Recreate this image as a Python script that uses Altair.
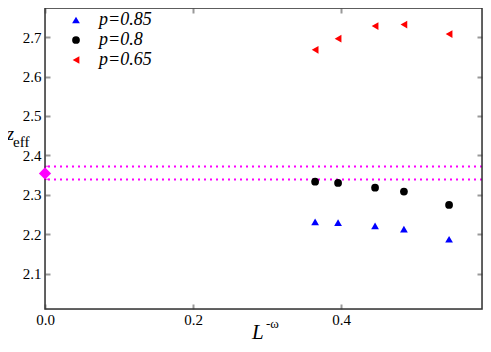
import altair as alt
import pandas as pd

# ---- data ----
L_omega = [0.365, 0.396, 0.446, 0.485, 0.546]
z_p085 = [2.231, 2.229, 2.221, 2.213, 2.187]
z_p080 = [2.333, 2.330, 2.318, 2.308, 2.274]
z_p065 = [2.668, 2.696, 2.728, 2.732, 2.708]
series = ["p=0.85", "p=0.8", "p=0.65"]
series_colors = ["#0000ff", "#000000", "#ff0000"]
series_shapes = ["triangle-up", "circle", "triangle-left"]

extrap_x = [0.0]
extrap_z = [2.354]
extrap_lo = [2.339]
extrap_hi = [2.372]

x_ticks = [0.0, 0.2, 0.4]
y_ticks = [2.1, 2.2, 2.3, 2.4, 2.5, 2.6, 2.7]
x_domain = [0.0, 0.5905]
y_domain = [2.01, 2.774]

rows = []
for lab, vals in zip(series, [z_p085, z_p080, z_p065]):
    for xv, zv in zip(L_omega, vals):
        rows.append({"x": xv, "z": zv, "p": lab})
df = pd.DataFrame(rows)
ext = pd.DataFrame({"x": extrap_x, "z": extrap_z, "lo": extrap_lo, "hi": extrap_hi})
lines = pd.DataFrame({"z": extrap_lo + extrap_hi})

FONT = "Liberation Serif"
MAG = "#ff00ff"
TICKC = "#999999"
FRAME = "#333333"
W, H = 437, 301

xs = alt.Scale(domain=x_domain, nice=False, zero=False)
ys = alt.Scale(domain=y_domain, nice=False, zero=False)

common_axis = dict(grid=False, domain=False, tickSize=5, offset=-5, tickColor=TICKC,
                   tickWidth=2, labelFontSize=15, labelColor="black", labelFont=FONT,
                   labelFlush=False, title=None)

xaxis = alt.Axis(values=x_ticks, format=".1f", labelPadding=3, **common_axis)
yaxis = alt.Axis(values=y_ticks, format=".1f", labelPadding=4, **common_axis)

X = alt.X("x:Q", scale=xs, axis=xaxis)
Y = alt.Y("z:Q", scale=ys, axis=yaxis)

points = alt.Chart(df).mark_point(filled=True, opacity=1, size=60).encode(
    x=X, y=Y,
    color=alt.Color("p:N", scale=alt.Scale(domain=series, range=series_colors),
                    legend=alt.Legend(title=None, orient="none", legendX=22, legendY=3,
                                      labelFont=FONT, labelFontSize=18,
                                      labelFontStyle="italic", labelColor="black",
                                      symbolSize=60, rowPadding=2, labelOffset=14,
                                      padding=0)),
    shape=alt.Shape("p:N", scale=alt.Scale(domain=series, range=series_shapes)),
)

dotted = alt.Chart(lines).mark_rule(color=MAG, strokeWidth=2, strokeDash=[2, 4]).encode(
    y=alt.Y("z:Q", scale=ys)
)

errbar = alt.Chart(ext).mark_rule(color=MAG, strokeWidth=1.5).encode(
    x=alt.X("x:Q", scale=xs), y=alt.Y("lo:Q", scale=ys), y2="hi:Q"
)
caps_lo = alt.Chart(ext).mark_tick(color=MAG, orient="horizontal", size=9, thickness=1.5, clip=True).encode(
    x=alt.X("x:Q", scale=xs), y=alt.Y("lo:Q", scale=ys)
)
caps_hi = alt.Chart(ext).mark_tick(color=MAG, orient="horizontal", size=9, thickness=1.5, clip=True).encode(
    x=alt.X("x:Q", scale=xs), y=alt.Y("hi:Q", scale=ys)
)
diamond = alt.Chart(ext).mark_point(shape="diamond", filled=True, opacity=1, size=150, color=MAG).encode(
    x=alt.X("x:Q", scale=xs), y=alt.Y("z:Q", scale=ys)
)

# plot frame
frame = alt.Chart(ext).mark_rect(fill=None, stroke=FRAME, strokeWidth=1.5).encode(
    x=alt.value(0), x2=alt.value(W), y=alt.value(0), y2=alt.value(H)
)

# axis titles (italic main letters with sub/superscripts)
t_L = alt.Chart(ext).mark_text(text="L", font=FONT, fontSize=21, fontStyle="italic",
                               align="left", baseline="alphabetic").encode(
    x=alt.value(207), y=alt.value(331))
t_Lsup = alt.Chart(ext).mark_text(text="-ω", font=FONT, fontSize=13,
                                  align="left", baseline="alphabetic").encode(
    x=alt.value(221), y=alt.value(320))
t_z = alt.Chart(ext).mark_text(text="z", font=FONT, fontSize=18, fontStyle="italic",
                               align="left", baseline="alphabetic").encode(
    x=alt.value(-38), y=alt.value(132))
t_zsub = alt.Chart(ext).mark_text(text="eff", font=FONT, fontSize=15,
                                  align="left", baseline="alphabetic").encode(
    x=alt.value(-32), y=alt.value(139))

main = alt.layer(dotted, errbar, caps_lo, caps_hi, points, frame, diamond,
                 t_L, t_Lsup, t_z, t_zsub)

mirror_axis = dict(grid=False, domain=False, tickSize=5, offset=-5, tickColor=TICKC,
                   tickWidth=2, labels=False, title=None)
mirror = alt.Chart(df).mark_point(opacity=0).encode(
    x=alt.X("x:Q", scale=xs, axis=alt.Axis(orient="top", values=x_ticks, **mirror_axis)),
    y=alt.Y("z:Q", scale=ys, axis=alt.Axis(orient="right", values=y_ticks, **mirror_axis)),
)

chart = alt.layer(main, mirror).resolve_scale(x="independent", y="independent").properties(
    width=W, height=H,
    autosize=alt.AutoSizeParams(type="none"),
    padding={"left": 37, "top": 0, "right": 1, "bottom": 35},
).configure_view(stroke=None).configure(background="white")

chart.save("out.html", embed_options={"renderer": "svg", "actions": False})
